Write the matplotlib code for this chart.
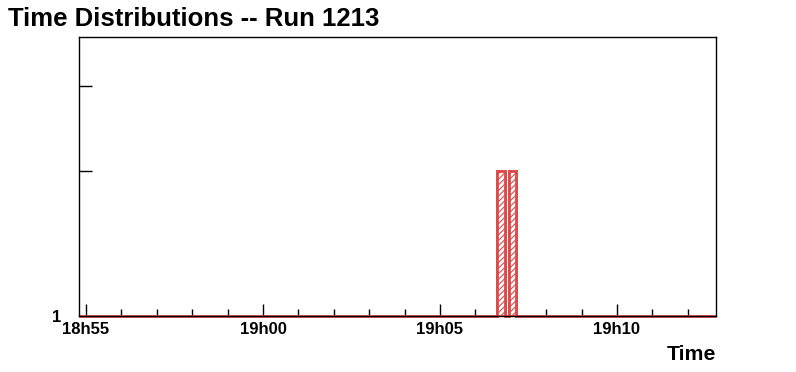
import numpy as np
import matplotlib.pyplot as plt
from matplotlib.ticker import FixedLocator, MultipleLocator, FuncFormatter, NullFormatter

# Time histogram, seconds since 18h55:00, log y axis

bin_edges = [697, 710, 717, 729]      # seconds after 18h55
bin_counts = [2, 0, 2]
t_start = 18 * 3600 + 55 * 60
x_range = (-12, 1068)
y_range = (1, 3.8)
major_ticks = [0, 300, 600, 900]

red = "#dd4a4a"
plt.rcParams["font.family"] = ["Liberation Sans", "DejaVu Sans"]
plt.rcParams["hatch.linewidth"] = 0.8

fig = plt.figure(figsize=(7.96, 3.72), dpi=100)
ax = fig.add_axes([0.0992, 0.1505, 0.8003, 0.75])

ax.set_yscale("log")
ax.set_xlim(*x_range)
ax.set_ylim(*y_range)

# full histogram outline, empty bins sit on the bottom of the log axis
edges = np.concatenate(([x_range[0]], bin_edges, [x_range[1]]))
counts = np.concatenate(([0], bin_counts, [0])).astype(float)
shown = np.maximum(counts, y_range[0])
ax.stairs(shown, edges, baseline=y_range[0], color=red, linewidth=2, clip_on=False, zorder=2)

# filled bins with hatch
for left, right, c in zip(bin_edges[:-1], bin_edges[1:], bin_counts):
    if c > 0:
        ax.bar(left, c - y_range[0], width=right - left, bottom=y_range[0], align="edge",
               facecolor="white", edgecolor=red, hatch="//////", linewidth=2, zorder=3)

def fmt_time(x, pos):
    t = int(t_start + x)
    return f"{t // 3600}h{(t % 3600) // 60:02d}"

ax.xaxis.set_major_locator(FixedLocator(major_ticks))
ax.xaxis.set_minor_locator(MultipleLocator(60))
ax.xaxis.set_major_formatter(FuncFormatter(fmt_time))

ax.yaxis.set_major_locator(FixedLocator([1]))
ax.yaxis.set_major_formatter(FuncFormatter(lambda v, p: "1"))
ax.yaxis.set_minor_locator(FixedLocator([2, 3]))
ax.yaxis.set_minor_formatter(NullFormatter())

ax.tick_params(which="both", direction="in", top=False, right=False, width=1)
ax.tick_params(which="major", length=9, labelsize=12, pad=4)
ax.tick_params(which="minor", length=5)
ax.tick_params(axis="y", which="minor", length=9)
ax.tick_params(axis="y", which="major", length=0, pad=13)
for lab in ax.get_xticklabels() + ax.get_yticklabels():
    lab.set_fontweight("bold")

for s in ax.spines.values():
    s.set_linewidth(1)
    s.set_zorder(4)

fig.text(0.010, 0.950, "Time Distributions -- Run 1213", fontsize=18.5, fontweight="bold",
         ha="left", va="center")
fig.text(0.8995, 0.048, "Time", fontsize=15.3, fontweight="bold", ha="right", va="center")

fig.savefig("out.png", dpi=100)
